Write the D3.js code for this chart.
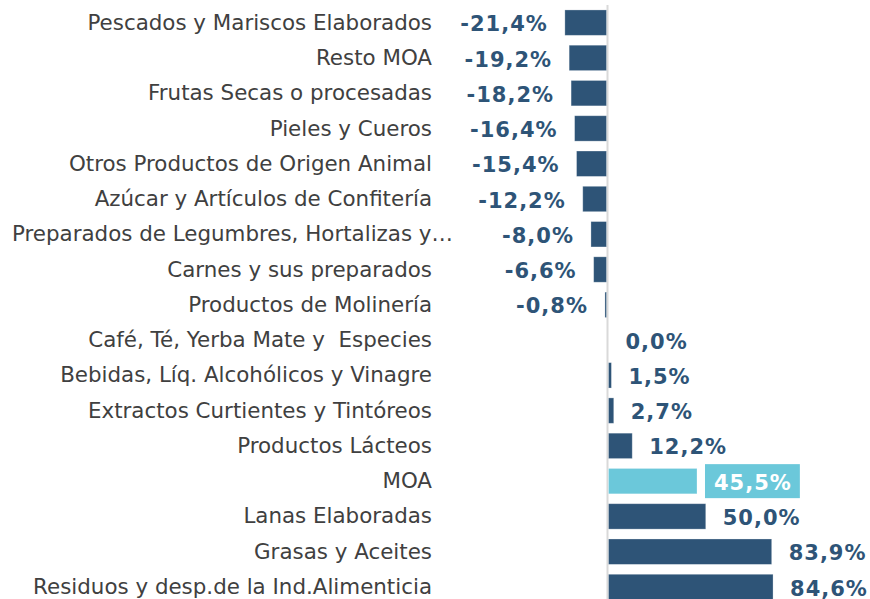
<!DOCTYPE html>
<html>
<head>
<meta charset="utf-8">
<script src="https://cdn.jsdelivr.net/npm/d3@7"></script>
<style>
  html, body { margin: 0; padding: 0; background: #ffffff; }
  svg { display: block; }
  .cat { white-space: pre; }
</style>
</head>
<body>
<svg id="chart" width="870" height="599"></svg>
<script>
const categories = [
  "Pescados y Mariscos Elaborados",
  "Resto MOA",
  "Frutas Secas o procesadas",
  "Pieles y Cueros",
  "Otros Productos de Origen Animal",
  "Azúcar y Artículos de Confitería",
  "Preparados de Legumbres, Hortalizas y…",
  "Carnes y sus preparados",
  "Productos de Molinería",
  "Café, Té, Yerba Mate y  Especies",
  "Bebidas, Líq. Alcohólicos y Vinagre",
  "Extractos Curtientes y Tintóreos",
  "Productos Lácteos",
  "MOA",
  "Lanas Elaboradas",
  "Grasas y Aceites",
  "Residuos y desp.de la Ind.Alimenticia"
];
const values = [-21.4, -19.2, -18.2, -16.4, -15.4, -12.2, -8.0, -6.6, -0.8, 0.0, 1.5, 2.7, 12.2, 45.5, 50.0, 83.9, 84.6];
const highlighted = ["MOA"];

const darkBlue = "#2E5477";
const lightBlue = "#6BC8DA";
const labelColor = "#404040";

const svg = d3.select("#chart");

const x = d3.scaleLinear().domain([-40, 100]).range([607.5 - 40 * 1.945, 607.5 + 100 * 1.945]);
const y = d3.scaleBand().domain(categories).range([5, 5 + 17 * 35.27]).paddingInner(0.28).paddingOuter(0.14);

const fmt = v => (v < 0 ? "-" : "") + d3.format(".1f")(Math.abs(v)).replace(".", ",") + "%";

const data = categories.map((c, i) => ({ cat: c, val: values[i], hi: highlighted.includes(c) }));

// zero axis line
svg.append("line")
  .attr("x1", x(0)).attr("x2", x(0))
  .attr("y1", 5).attr("y2", 599)
  .attr("stroke", "#D9D9D9").attr("stroke-width", 2);

// bars
svg.append("g").selectAll("rect").data(data).join("rect")
  .attr("x", d => Math.min(x(0), x(d.val)) + (d.val >= 0 ? 1 : -1))
  .attr("width", d => Math.abs(x(d.val) - x(0)))
  .attr("y", d => y(d.cat))
  .attr("height", y.bandwidth())
  .attr("fill", d => d.hi ? lightBlue : darkBlue)
  .attr("stroke", d => d.val === 0 ? "none" : "#ffffff")
  .attr("stroke-opacity", 0.35)
  .attr("stroke-width", 0.8);

// category labels
const catG = svg.append("g");
catG.selectAll("text").data(data).join("text")
  .attr("class", "cat")
  .attr("x", 432)
  .attr("y", d => y(d.cat) + y.bandwidth() / 2)
  .attr("dy", "0.33em")
  .attr("text-anchor", "end")
  .attr("font-family", "'DejaVu Sans', Verdana, sans-serif")
  .attr("font-size", 21.4)
  .attr("fill", labelColor)
  .text(d => d.cat)
  .each(function () {
    const w = this.getComputedTextLength();
    if (432 - w < 12) {
      d3.select(this).attr("x", 12).attr("text-anchor", "start");
    }
  });

// value labels
const valG = svg.append("g");
const valFont = { family: "'DejaVu Sans', Verdana, sans-serif", size: 21, spacing: "1px" };
data.forEach(d => {
  const cy = y(d.cat) + y.bandwidth() / 2;
  const gap = 17;
  if (d.hi) {
    const tx = x(d.val) + 1 + gap;
    const t = valG.append("text")
      .attr("x", tx)
      .attr("y", cy + 8.6)
      .attr("font-family", valFont.family)
      .attr("font-weight", "bold")
      .attr("font-size", valFont.size)
      .attr("letter-spacing", valFont.spacing)
      .attr("fill", "#ffffff")
      .text(fmt(d.val));
    const w = t.node().getComputedTextLength();
    valG.insert("rect", "text")
      .attr("x", tx - 9)
      .attr("y", cy - 17)
      .attr("width", w + 17)
      .attr("height", 34)
      .attr("fill", lightBlue);
  } else {
    valG.append("text")
      .attr("x", d.val < 0 ? x(d.val) - 1 - gap : x(d.val) + 1 + gap)
      .attr("y", cy + 8.6)
      .attr("text-anchor", d.val < 0 ? "end" : "start")
      .attr("font-family", valFont.family)
      .attr("font-weight", "bold")
      .attr("font-size", valFont.size)
      .attr("letter-spacing", valFont.spacing)
      .attr("fill", darkBlue)
      .text(fmt(d.val));
  }
});
</script>
</body>
</html>
